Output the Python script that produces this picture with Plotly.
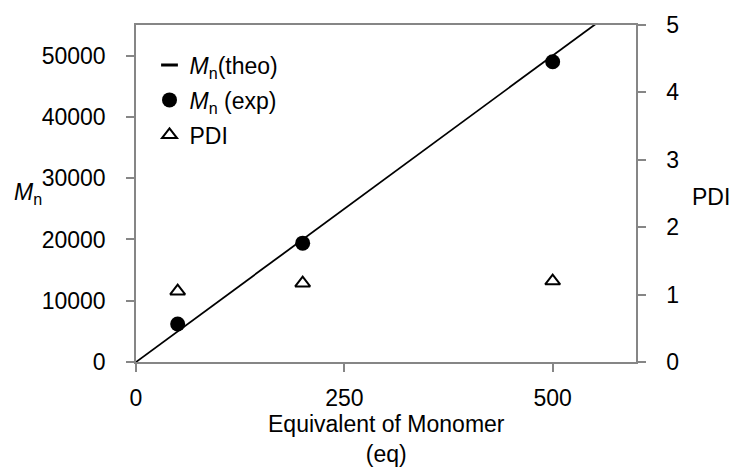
import plotly.graph_objects as go

# Monomer equivalents and measured molecular weights
eq_exp = [50, 200, 500]
mn_exp = [6200, 19400, 49000]
pdi = [1.05, 1.17, 1.20]

# Theoretical Mn line (100 g/mol per equivalent)
eq_theo = [0, 600]
mn_theo = [0, 60000]

FONT = "Liberation Sans, Arial, sans-serif"
AXIS_GREY = "#868686"
FS = 23

fig = go.Figure()

fig.add_trace(go.Scatter(
    x=eq_theo, y=mn_theo, mode="lines",
    line=dict(color="black", width=1.8),
    showlegend=False, hoverinfo="skip",
))
# legend entry for the theoretical line (short dash)
fig.add_trace(go.Scatter(
    x=[None], y=[None], mode="markers",
    marker=dict(symbol="line-ew-open", size=12, color="black",
                line=dict(color="black", width=3)),
    name="<i>M</i><sub>n</sub>(theo)", legendgroup="a",
))
fig.add_trace(go.Scatter(
    x=eq_exp, y=mn_exp, mode="markers",
    marker=dict(symbol="circle", size=15, color="black"),
    name="<i>M</i><sub>n</sub> (exp)", legendgroup="b",
))
fig.add_trace(go.Scatter(
    x=eq_exp, y=pdi, mode="markers", yaxis="y2",
    marker=dict(symbol="triangle-up-open", size=13, color="black",
                line=dict(color="black", width=2)),
    name="PDI", legendgroup="c",
))

axis_common = dict(
    showgrid=False, zeroline=False, showline=True, linecolor=AXIS_GREY, linewidth=1.5,
    ticks="outside", ticklen=8, tickcolor=AXIS_GREY, tickwidth=1.5,
    tickfont=dict(family=FONT, size=FS, color="black"),
)

fig.update_layout(
    width=736, height=467,
    margin=dict(l=136, r=100, t=23, b=105),
    plot_bgcolor="white", paper_bgcolor="white",
    font=dict(family=FONT, color="black"),
    xaxis=dict(range=[0, 600], tickvals=[0, 250, 500], mirror=True,
               ticklabelstandoff=7, **axis_common),
    yaxis=dict(range=[0, 55000], dtick=10000, tickformat="d",
               ticklabelstandoff=16, **axis_common),
    yaxis2=dict(range=[0, 5], dtick=1, overlaying="y", side="right",
                ticklabelstandoff=16, **axis_common),
    legend=dict(x=0.027, y=0.945, xanchor="left", yanchor="top",
                bgcolor="rgba(0,0,0,0)", traceorder="grouped", tracegroupgap=2,
                font=dict(family=FONT, size=FS, color="black")),
    annotations=[
        dict(text="Equivalent of Monomer<br>(eq)", xref="paper", yref="paper",
             x=0.5, y=0, xanchor="center", yanchor="top", yshift=-47,
             showarrow=False, font=dict(family=FONT, size=FS)),
        dict(text="<i>M</i><sub>n</sub>", xref="paper", yref="paper",
             x=0, y=0.5, xanchor="center", yanchor="middle", xshift=-108,
             showarrow=False, font=dict(family=FONT, size=FS)),
        dict(text="PDI", xref="paper", yref="paper",
             x=1, y=0.49, xanchor="center", yanchor="middle", xshift=75,
             showarrow=False, font=dict(family=FONT, size=FS)),
    ],
)

fig.write_html("out.html")
